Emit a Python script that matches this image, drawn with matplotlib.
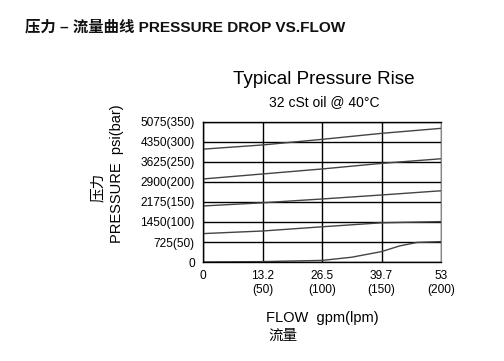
import numpy as np
import matplotlib
matplotlib.use("Agg")
import matplotlib.pyplot as plt

plt.rcParams['font.family'] = ['Liberation Sans', 'Noto Sans CJK SC', 'DejaVu Sans']

# flow in lpm, pressure in bar
flow_lpm = [0, 50, 100, 150, 200]
curve_350 = [282, 292.5, 306.5, 321.5, 334]
curve_250 = [207.5, 220, 232.5, 246.5, 258]
curve_150 = [140, 148, 157.5, 167.5, 178]
curve_100 = [71, 77.5, 88, 98, 101]
flow_low = [0, 50, 100, 125, 150, 165, 180, 200]
curve_low = [0, 1, 4, 12, 26, 40, 49, 51]

y_ticks = [0, 50, 100, 150, 200, 250, 300, 350]
y_labels = ['0', '725(50)', '1450(100)', '2175(150)', '2900(200)',
            '3625(250)', '4350(300)', '5075(350)']
x_ticks = [0, 50, 100, 150, 200]
x_labels = ['0', '13.2\n(50)', '26.5\n(100)', '39.7\n(150)', '53\n(200)']

fig = plt.figure(figsize=(5.04, 3.61), dpi=100)
ax = fig.add_axes([0.4028, 0.2742, 0.4722, 0.388])

for xs, ys in [(flow_lpm, curve_350), (flow_lpm, curve_250), (flow_lpm, curve_150),
               (flow_lpm, curve_100), (flow_low, curve_low)]:
    ax.plot(xs, ys, color='#444444', lw=1.0)

ax.set_xlim(0, 200)
ax.set_ylim(0, 350)
ax.set_yticks(y_ticks)
ax.set_yticklabels(y_labels, fontsize=8.6)
ax.set_xticks(x_ticks)
ax.set_xticklabels(x_labels, fontsize=8.6)
ax.tick_params(length=0, pad=6)
ax.grid(True, color='black', lw=1.0)
for s in ['left', 'bottom', 'top']:
    ax.spines[s].set_linewidth(1.0)
ax.spines['right'].set_color('#888888')

fig.text(25 / 504, 1 - 27 / 361, '压力 – 流量曲线 PRESSURE DROP VS.FLOW',
         fontsize=11.1, fontweight='bold', va='center', ha='left',
         family=['Liberation Sans', 'Noto Sans CJK SC'], color='#111111')
fig.text(324 / 504, 1 - 80 / 361, 'Typical Pressure Rise', fontsize=13.6,
         ha='center', va='center')
fig.text(324 / 504, 1 - 102 / 361, '32 cSt oil @ 40°C', fontsize=10,
         ha='center', va='center')
fig.text(117 / 504, 1 - 174 / 361, 'PRESSURE  psi(bar)', fontsize=10.5,
         rotation=90, ha='center', va='center')
fig.text(98 / 504, 1 - 187 / 361, '压力', fontsize=10.5,
         rotation=90, ha='center', va='center')
fig.text(322 / 504, 1 - 318 / 361, 'FLOW  gpm(lpm)', fontsize=10.5,
         ha='center', va='center')
fig.text(283 / 504, 1 - 336 / 361, '流量', fontsize=10.5,
         ha='center', va='center')

fig.savefig('out.png', dpi=100)
